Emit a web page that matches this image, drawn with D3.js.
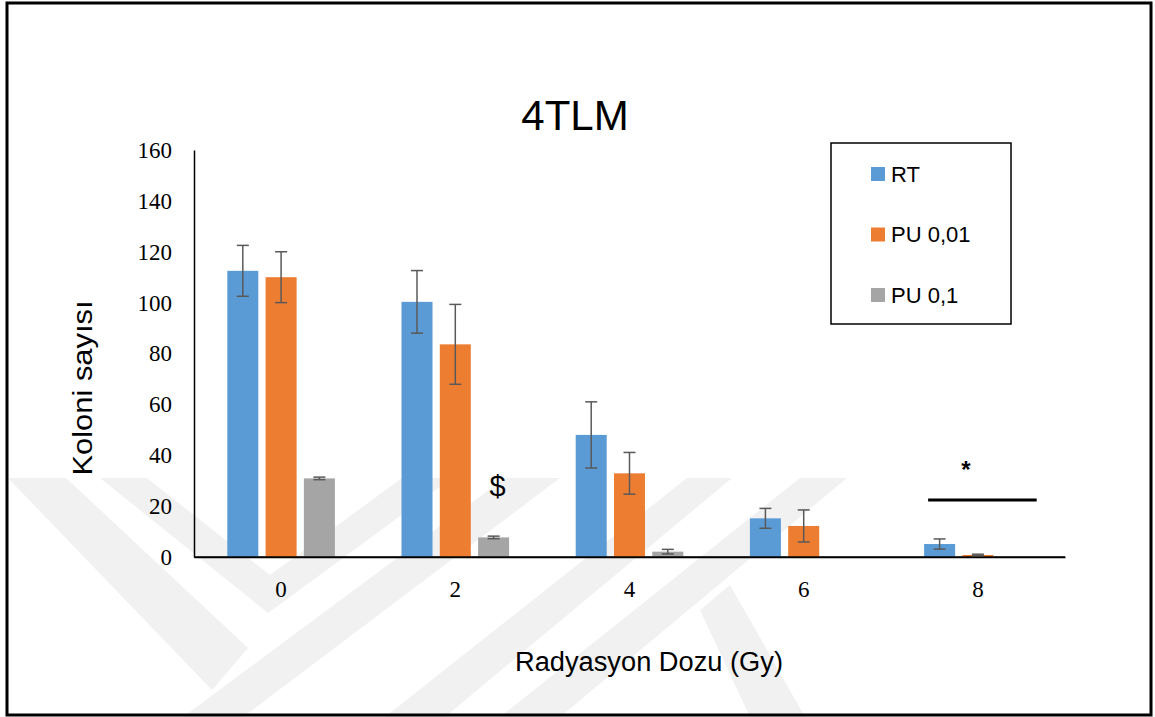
<!DOCTYPE html>
<html>
<head>
<meta charset="utf-8">
<script src="https://cdn.jsdelivr.net/npm/d3@7"></script>
<style>
  body { margin: 0; background: #fff; }
  svg { display: block; }
</style>
</head>
<body>
<script>
// data
var doses = ["0", "2", "4", "6", "8"];
var seriesNames = ["RT", "PU 0,01", "PU 0,1"];
var rtMeans = [112.5, 100.3, 48, 15.2, 5.1];
var rtErrors = [10, 12.3, 13, 3.9, 2];
var pu001Means = [110, 83.6, 32.9, 12.2, 0.8];
var pu001Errors = [10, 15.7, 8.2, 6.3, 0.3];
var pu01Means = [30.9, 7.7, 2.1, 0, 0];
var pu01Errors = [0.5, 0.5, 0.9, 0, 0];
var yTicks = [0, 20, 40, 60, 80, 100, 120, 140, 160];
var colors = ["#5b9bd5", "#ed7d31", "#a5a5a5"];

// significance marks
var dollarMark = { dose: "2", series: "PU 0,1", value: 28, text: "$" };
var starMark = { dose: "8", value: 37.5, lineValue: 22.4, text: "*" };

var width = 1155, height = 717;

var svg = d3.select("body").append("svg")
    .attr("width", width)
    .attr("height", height);

svg.append("rect")
    .attr("width", width)
    .attr("height", height)
    .attr("fill", "#fff");

// faint watermark stripes behind the chart
var watermark = [
  [[8, 478], [66, 478], [248, 648], [212, 690]],
  [[183, 717], [243, 717], [560, 478], [505, 478]],
  [[100, 478], [147, 478], [270, 575], [402, 478], [452, 478], [268, 613]],
  [[687, 478], [732, 478], [445, 717], [385, 717]],
  [[800, 478], [847, 478], [560, 717], [500, 717]],
  [[700, 610], [730, 585], [805, 717], [750, 717]]
];
svg.append("g")
    .selectAll("polygon")
    .data(watermark)
    .enter()
    .append("polygon")
    .attr("points", function(d) { return d.map(function(p) { return p.join(","); }).join(" "); })
    .attr("fill", "#f1f1f1");

// outer frame
svg.append("rect")
    .attr("x", 7)
    .attr("y", 3)
    .attr("width", 1144)
    .attr("height", 712)
    .attr("fill", "none")
    .attr("stroke", "#000")
    .attr("stroke-width", 3);

var plot = { left: 194, right: 1065, top: 150, bottom: 557 };

// scales
var x0 = d3.scaleBand()
    .domain(doses)
    .range([plot.left, plot.right])
    .padding(0);

var groupWidth = 107.6;
var x1 = d3.scaleBand()
    .domain(seriesNames)
    .range([(x0.bandwidth() - groupWidth) / 2, (x0.bandwidth() + groupWidth) / 2])
    .paddingInner(0.19)
    .paddingOuter(0);

var y = d3.scaleLinear()
    .domain([0, 160])
    .range([plot.bottom, plot.top]);

var color = d3.scaleOrdinal()
    .domain(seriesNames)
    .range(colors);

// rows for every bar
var means = [rtMeans, pu001Means, pu01Means];
var errors = [rtErrors, pu001Errors, pu01Errors];
var rows = [];
doses.forEach(function(dose, i) {
    seriesNames.forEach(function(name, j) {
        rows.push({ dose: dose, series: name, value: means[j][i], err: errors[j][i] });
    });
});

// title
svg.append("text")
    .attr("x", 575)
    .attr("y", 130)
    .attr("text-anchor", "middle")
    .style("font-family", "'Liberation Sans', Arial, sans-serif")
    .style("font-size", "42px")
    .text("4TLM");

// y axis
var yAxis = d3.axisLeft(y)
    .tickValues(yTicks)
    .tickSize(0)
    .tickPadding(22);

var yg = svg.append("g")
    .attr("transform", "translate(" + plot.left + ",0)")
    .call(yAxis);
yg.select(".domain").attr("stroke", "#000").attr("stroke-width", 1.5);
yg.selectAll("text")
    .style("font-family", "'Liberation Serif', 'DejaVu Serif', serif")
    .style("font-size", "23px")
    .attr("fill", "#000");

// x axis
var xAxis = d3.axisBottom(x0)
    .tickSize(0)
    .tickPadding(24);

var xg = svg.append("g")
    .attr("transform", "translate(0," + plot.bottom + ")")
    .call(xAxis);
xg.select(".domain").attr("stroke", "#000").attr("stroke-width", 1.5);
xg.selectAll("text")
    .style("font-family", "'Liberation Serif', 'DejaVu Serif', serif")
    .style("font-size", "23px")
    .attr("fill", "#000");

// bars
var bars = svg.append("g");
bars.selectAll("rect")
    .data(rows.filter(function(d) { return d.value > 0; }))
    .enter()
    .append("rect")
    .attr("x", function(d) { return x0(d.dose) + x1(d.series); })
    .attr("y", function(d) { return y(d.value); })
    .attr("width", x1.bandwidth())
    .attr("height", function(d) { return y(0) - y(d.value); })
    .attr("fill", function(d) { return color(d.series); });

// redraw baseline over the bars
svg.append("line")
    .attr("x1", plot.left)
    .attr("x2", plot.right)
    .attr("y1", plot.bottom)
    .attr("y2", plot.bottom)
    .attr("stroke", "#000")
    .attr("stroke-width", 1.5);

// error bars
var capHalf = 6;
var errG = svg.append("g")
    .attr("stroke", "#595959")
    .attr("stroke-width", 1.5);
var errRows = rows.filter(function(d) { return d.err > 0; });
errG.selectAll(".stem")
    .data(errRows)
    .enter()
    .append("line")
    .attr("class", "stem")
    .attr("x1", function(d) { return x0(d.dose) + x1(d.series) + x1.bandwidth() / 2; })
    .attr("x2", function(d) { return x0(d.dose) + x1(d.series) + x1.bandwidth() / 2; })
    .attr("y1", function(d) { return y(d.value + d.err); })
    .attr("y2", function(d) { return y(Math.max(0, d.value - d.err)); });
[1, -1].forEach(function(sign) {
    errG.selectAll(".cap" + (sign > 0 ? "t" : "b"))
        .data(errRows)
        .enter()
        .append("line")
        .attr("x1", function(d) { return x0(d.dose) + x1(d.series) + x1.bandwidth() / 2 - capHalf; })
        .attr("x2", function(d) { return x0(d.dose) + x1(d.series) + x1.bandwidth() / 2 + capHalf; })
        .attr("y1", function(d) { return y(Math.max(0, d.value + sign * d.err)); })
        .attr("y2", function(d) { return y(Math.max(0, d.value + sign * d.err)); });
});

// significance marks
svg.append("text")
    .attr("x", x0(dollarMark.dose) + x1(dollarMark.series) + x1.bandwidth() / 2 + 4)
    .attr("y", y(dollarMark.value))
    .attr("dy", "0.35em")
    .attr("text-anchor", "middle")
    .style("font-family", "'Liberation Sans', Arial, sans-serif")
    .style("font-size", "29px")
    .text(dollarMark.text);

var starLeft = x0(starMark.dose) + x1(seriesNames[0]) + 4;
var starRight = x0(starMark.dose) + x1(seriesNames[2]) + x1.bandwidth() + 5;
svg.append("line")
    .attr("x1", starLeft)
    .attr("x2", starRight)
    .attr("y1", y(starMark.lineValue))
    .attr("y2", y(starMark.lineValue))
    .attr("stroke", "#000")
    .attr("stroke-width", 3);
svg.append("text")
    .attr("x", x0(starMark.dose) + x0.bandwidth() / 2 - 12)
    .attr("y", y(starMark.value))
    .attr("dy", "0.7em")
    .attr("text-anchor", "middle")
    .style("font-family", "'Liberation Sans', Arial, sans-serif")
    .style("font-size", "24px")
    .style("font-weight", "bold")
    .text(starMark.text);

// axis titles
svg.append("text")
    .attr("x", 649)
    .attr("y", 671)
    .attr("text-anchor", "middle")
    .attr("textLength", 268)
    .attr("lengthAdjust", "spacingAndGlyphs")
    .style("font-family", "'Liberation Sans', Arial, sans-serif")
    .style("font-size", "27px")
    .text("Radyasyon Dozu (Gy)");

svg.append("text")
    .attr("transform", "translate(92,388) rotate(-90)")
    .attr("text-anchor", "middle")
    .attr("textLength", 175)
    .attr("lengthAdjust", "spacingAndGlyphs")
    .style("font-family", "'Liberation Sans', Arial, sans-serif")
    .style("font-size", "27px")
    .text("Koloni sayısı");

// legend
var legend = svg.append("g");
legend.append("rect")
    .attr("x", 831)
    .attr("y", 143)
    .attr("width", 180)
    .attr("height", 181)
    .attr("fill", "#fff")
    .attr("stroke", "#000")
    .attr("stroke-width", 1.5);

var legendY = d3.scalePoint()
    .domain(seriesNames)
    .range([174, 295]);

var items = legend.selectAll(".item")
    .data(seriesNames)
    .enter()
    .append("g")
    .attr("class", "item")
    .attr("transform", function(d) { return "translate(871," + legendY(d) + ")"; });
items.append("rect")
    .attr("x", 0)
    .attr("y", -7)
    .attr("width", 14)
    .attr("height", 14)
    .attr("fill", function(d) { return color(d); });
items.append("text")
    .attr("x", 20)
    .attr("dy", "0.36em")
    .style("font-family", "'Liberation Sans', Arial, sans-serif")
    .style("font-size", "22px")
    .text(function(d) { return d; });
</script>
</body>
</html>
